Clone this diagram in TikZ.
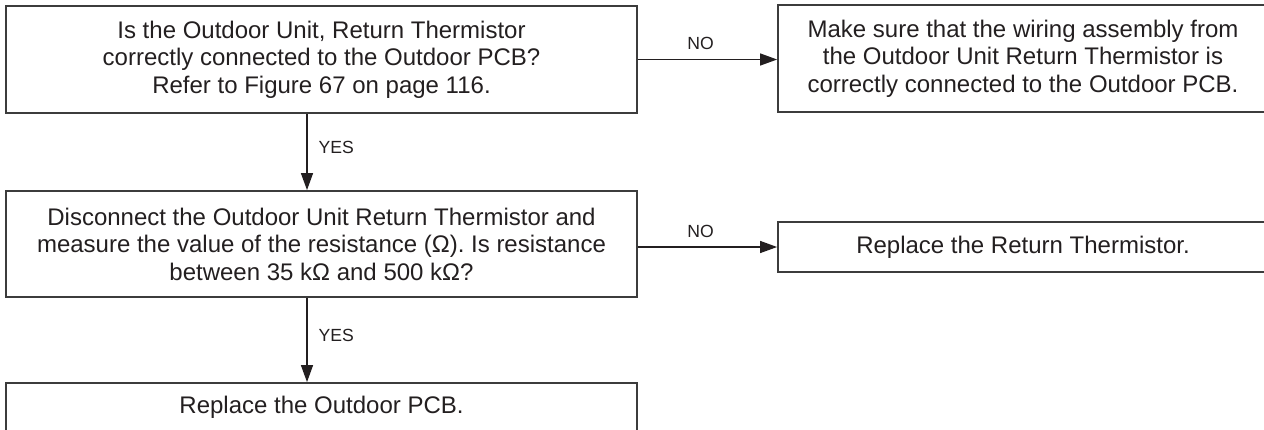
\documentclass[tikz,border=0pt]{standalone}
\usepackage{fontspec}
\setmainfont{Liberation Sans}
\usetikzlibrary{arrows.meta, positioning, calc}
\definecolor{boxline}{RGB}{60,60,60}
\definecolor{textdark}{RGB}{35,31,32}
\tikzset{
  qbox/.style={draw=boxline, line width=0.9pt, align=center, inner sep=0pt,
               text=textdark, font=\fontsize{12}{13.75}\selectfont, minimum width=315.5pt},
  abox/.style={draw=boxline, line width=0.9pt, align=center, inner sep=0pt,
               text=textdark, font=\fontsize{12}{13.75}\selectfont, minimum width=245pt},
  flow/.style={-{Triangle[length=8.5pt, width=6pt]}, line width=0.65pt, draw=textdark},
  lbl/.style={inner sep=0pt, text=textdark, font=\fontsize{8.8}{10}\selectfont},
}

\begin{document}
\begin{tikzpicture}[x=0.5pt, y=-0.5pt]
\useasboundingbox (0,0) rectangle (1264,429);

% questions (left column)
\node[qbox, minimum height=53.5pt] (q1) at (321.5,59.5)
  {Is the Outdoor Unit, Return Thermistor\\correctly connected to the Outdoor PCB?\\Refer to Figure 67 on page 116.};
\node[qbox, minimum height=53pt] (q2) at (321.5,244)
  {Disconnect the Outdoor Unit Return Thermistor and\\measure the value of the resistance (Ω). Is resistance\\between 35 kΩ and 500 kΩ?};
\node[qbox, minimum height=24.5pt] (r3) at (321.5,407.5) {Replace the Outdoor PCB.};

% actions (right column)
\node[abox, minimum height=53.5pt] (r1) at (1023,58.5)
  {Make sure that the wiring assembly from\\the Outdoor Unit Return Thermistor is\\correctly connected to the Outdoor PCB.};
\node[abox, minimum height=25pt] (r2) at (1023,247) {Replace the Return Thermistor.};

\coordinate (down) at (307,0);

\draw[flow] (q1.east) -- node[lbl, pos=0.45, above=4.5pt] {NO} (q1.east -| r1.west);
\draw[flow] (q2.east |- r2.west) -- node[lbl, pos=0.45, above=4.5pt] {NO} (r2.west);
\draw[flow] (q1.south -| down) -- node[lbl, pos=0.44, right=5.5pt] {YES} (q2.north -| down);
\draw[flow] (q2.south -| down) -- node[lbl, pos=0.44, right=5.5pt] {YES} (r3.north -| down);
\end{tikzpicture}
\end{document}
